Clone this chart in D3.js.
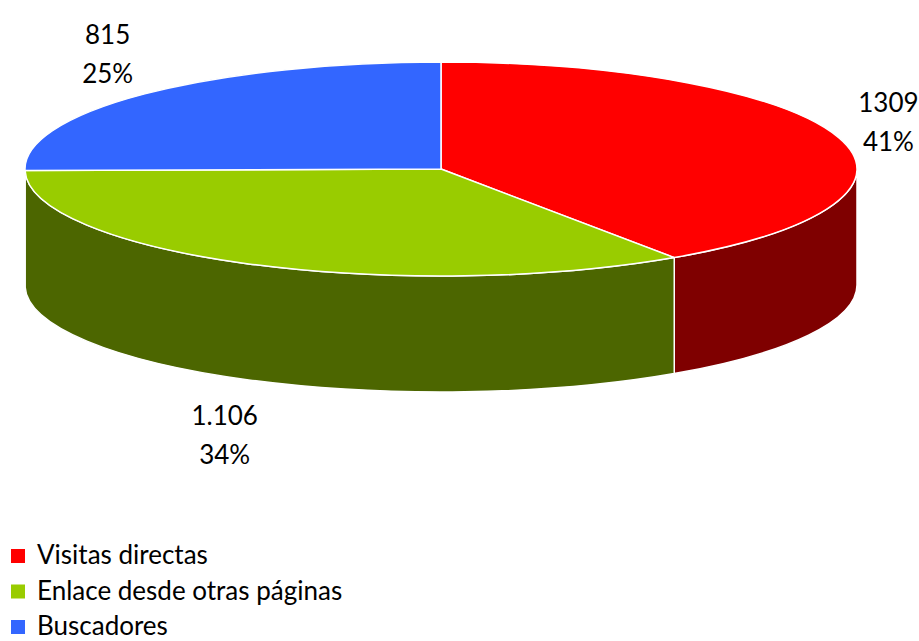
<!DOCTYPE html>
<html>
<head>
<meta charset="utf-8">
<script src="https://cdn.jsdelivr.net/npm/d3@7"></script>
<style>
  body { margin: 0; background: #fff; }
  svg { display: block; }
  text { font-family: Lato, "Open Sans", sans-serif; fill: #000; }
</style>
</head>
<body>
<div class="pie3d"></div>
<script>
// data
var categories = ["Visitas directas", "Enlace desde otras páginas", "Buscadores"];
var values = [1309, 1106, 815];
var valueLabels = ["1309", "1.106", "815"];
var topColors = ["#ff0000", "#99cc00", "#3366ff"];
var sideColors = ["#7f0000", "#4c6600", "#1a3380"];

var svgWidth = 919;
var svgHeight = 641;

// ellipse of the top face
var cx = 441, cy = 169, rx = 416, ry = 107, depth = 116;

var svg = d3.select(".pie3d")
  .append("svg")
  .attr("width", svgWidth)
  .attr("height", svgHeight);

var topColor = d3.scaleOrdinal().domain(categories).range(topColors);
var sideColor = d3.scaleOrdinal().domain(categories).range(sideColors);

var pie = d3.pie().sort(null).value(d => d.value);
var data = categories.map((c, i) => ({ name: c, value: values[i], label: valueLabels[i] }));
var arcs = pie(data);
var total = d3.sum(values);

// point on the ellipse, angle 0 at top, clockwise
function pt(a, dy) {
  return [cx + rx * Math.sin(a), cy - ry * Math.cos(a) + (dy || 0)];
}

function topPath(d) {
  var p0 = pt(d.startAngle), p1 = pt(d.endAngle);
  var large = (d.endAngle - d.startAngle) > Math.PI ? 1 : 0;
  return `M${cx},${cy}L${p0}A${rx},${ry} 0 ${large} 1 ${p1}Z`;
}

function sidePath(d) {
  var s = Math.max(d.startAngle, Math.PI / 2);
  var e = Math.min(d.endAngle, 3 * Math.PI / 2);
  if (s >= e) return null;
  var a = pt(s), b = pt(e), b2 = pt(e, depth), a2 = pt(s, depth);
  return `M${a}A${rx},${ry} 0 0 1 ${b}L${b2}A${rx},${ry} 0 0 0 ${a2}Z`;
}

var g = svg.append("g");

// outer walls first
g.selectAll(".side")
  .data(arcs.filter(d => sidePath(d)))
  .enter()
  .append("path")
  .attr("class", "side")
  .attr("d", sidePath)
  .attr("fill", d => sideColor(d.data.name))
  .attr("stroke", "#fff")
  .attr("stroke-width", 1.5)
  .attr("stroke-linejoin", "round");

// top faces
g.selectAll(".top")
  .data(arcs)
  .enter()
  .append("path")
  .attr("class", "top")
  .attr("d", topPath)
  .attr("fill", d => topColor(d.data.name))
  .attr("stroke", "#fff")
  .attr("stroke-width", 1.5)
  .attr("stroke-linejoin", "round");

// data labels: value + percent
g.selectAll(".lbl")
  .data(arcs)
  .enter()
  .append("text")
  .attr("class", "lbl")
  .style("font-size", "26px")
  .style("text-anchor", "middle")
  .each(function(d) {
    var m = (d.startAngle + d.endAngle) / 2;
    var x = cx + (rx + 52) * Math.sin(m);
    var y = cy - (ry + 60) * Math.cos(m) + (Math.cos(m) < 0 ? depth : 0);
    var t = d3.select(this);
    t.append("tspan").attr("x", x).attr("y", y - 8).text(d.data.label);
    t.append("tspan").attr("x", x).attr("y", y + 31)
      .text(Math.round(d.data.value / total * 100) + "%");
  });

// legend
var legend = svg.selectAll(".legend")
  .data(categories)
  .enter()
  .append("g")
  .attr("class", "legend")
  .attr("transform", (d, i) => `translate(11, ${564 + i * 35.5})`);

legend.append("rect")
  .attr("x", 0)
  .attr("y", -15)
  .attr("width", 14)
  .attr("height", 14)
  .attr("fill", d => topColor(d));

legend.append("text")
  .attr("x", 26)
  .attr("y", 0)
  .style("font-size", "26px")
  .text(d => d);
</script>
</body>
</html>
